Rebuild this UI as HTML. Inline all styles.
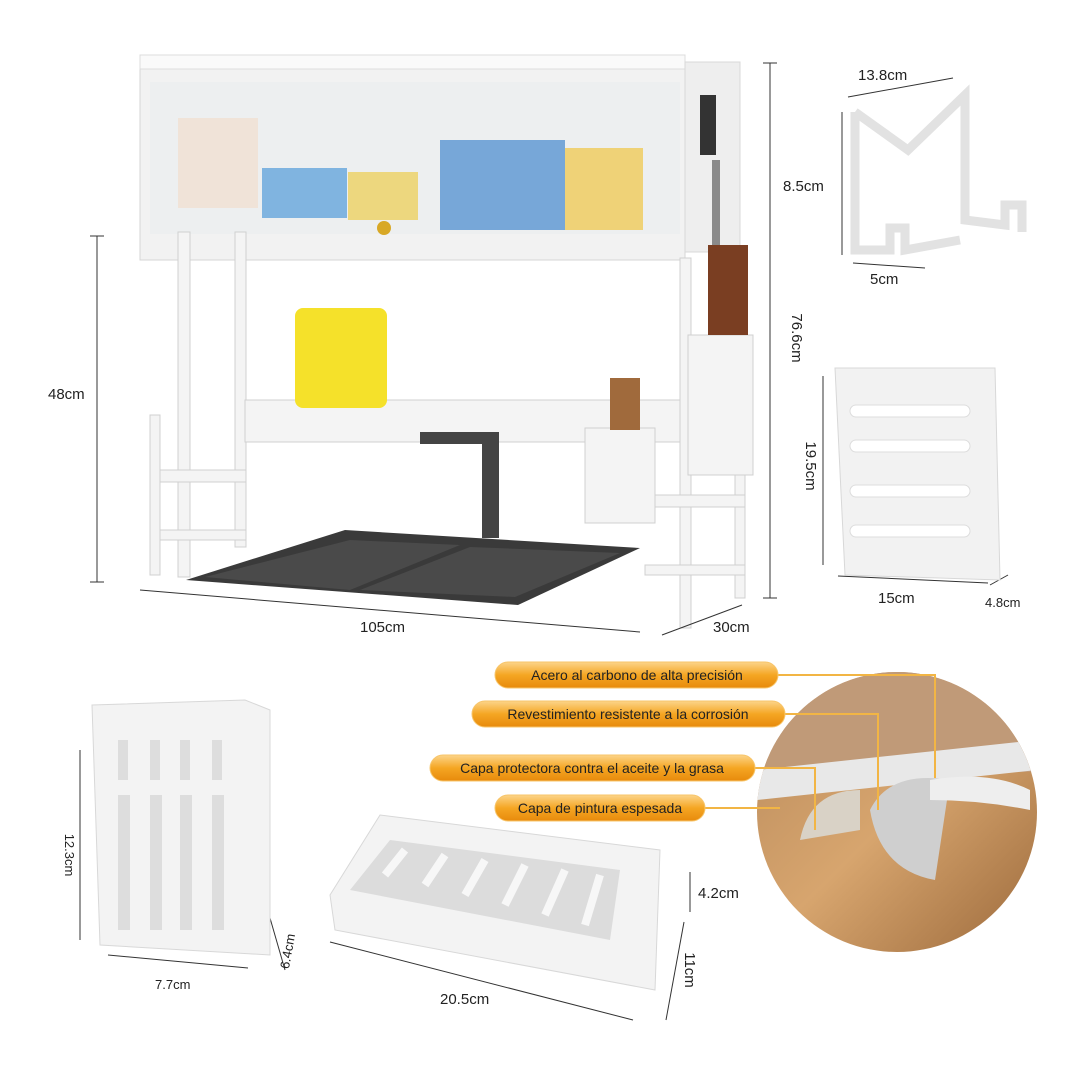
<!DOCTYPE html>
<html><head><meta charset="utf-8"><style>
html,body{margin:0;padding:0;background:#fff;}
svg{display:block;font-family:"Liberation Sans",sans-serif;}
</style></head><body>
<svg width="1079" height="1074" viewBox="0 0 1079 1074" xmlns="http://www.w3.org/2000/svg">
<defs>
<linearGradient id="org" x1="0" y1="0" x2="0" y2="1"><stop offset="0" stop-color="#fcd48a"/><stop offset="0.5" stop-color="#f5a623"/><stop offset="1" stop-color="#e88a0c"/></linearGradient>
<linearGradient id="wood" x1="0" y1="0" x2="1" y2="1"><stop offset="0" stop-color="#b88a5c"/><stop offset="0.5" stop-color="#d7a56e"/><stop offset="1" stop-color="#9c6a3c"/></linearGradient>
<clipPath id="cc"><circle cx="897" cy="812" r="140"/></clipPath>
</defs>
<!-- cabinet -->
<rect x="140" y="55" width="545" height="205" fill="#f2f2f2" stroke="#d6d6d6"/>
<rect x="140" y="55" width="545" height="14" fill="#fafafa" stroke="#ddd"/>
<rect x="150" y="82" width="530" height="152" fill="#e4e6e8"/>
<rect x="178" y="118" width="80" height="90" fill="#e9d4c4"/>
<rect x="262" y="168" width="85" height="50" fill="#3d8ccf"/>
<rect x="348" y="172" width="70" height="48" fill="#e4c23a"/>
<rect x="440" y="140" width="125" height="90" fill="#2f78c4"/>
<rect x="565" y="148" width="78" height="82" fill="#e6bb2e"/>
<rect x="150" y="82" width="530" height="152" fill="#fff" opacity="0.35"/>
<circle cx="384" cy="228" r="7" fill="#d8a826"/>
<rect x="685" y="62" width="55" height="190" fill="#eeeeee" stroke="#d8d8d8"/>
<rect x="700" y="95" width="16" height="60" fill="#333"/>
<rect x="712" y="160" width="8" height="95" fill="#8a8a8a"/>
<!-- legs -->
<g fill="#f4f4f4" stroke="#d0d0d0">
<rect x="178" y="232" width="12" height="345"/><rect x="235" y="232" width="11" height="315"/>
<rect x="680" y="258" width="11" height="370"/><rect x="735" y="258" width="10" height="340"/>
<rect x="150" y="470" width="96" height="12"/><rect x="150" y="530" width="96" height="10"/>
<rect x="150" y="415" width="10" height="160"/>
<rect x="645" y="495" width="100" height="12"/><rect x="645" y="565" width="100" height="10"/>
<rect x="245" y="400" width="435" height="42"/>
<rect x="688" y="335" width="65" height="140"/>
<rect x="585" y="428" width="70" height="95"/>
</g>
<rect x="708" y="245" width="40" height="90" fill="#7a3e22"/>
<rect x="610" y="378" width="30" height="52" fill="#a06a3c"/>
<rect x="295" y="308" width="92" height="100" rx="8" fill="#f5e12a"/>
<!-- sink -->
<polygon points="186,580 345,530 640,548 518,605" fill="#3a3a3a"/>
<polygon points="205,577 350,540 460,545 350,590" fill="#4a4a4a"/>
<polygon points="360,590 470,547 620,553 515,597" fill="#4a4a4a"/>
<rect x="482" y="432" width="17" height="106" fill="#444"/>
<rect x="420" y="432" width="75" height="12" fill="#444"/>
<!-- dims main -->
<g stroke="#333" stroke-width="1" fill="none">
<line x1="97" y1="236" x2="97" y2="582"/><line x1="90" y1="236" x2="104" y2="236"/><line x1="90" y1="582" x2="104" y2="582"/>
<line x1="770" y1="63" x2="770" y2="598"/><line x1="763" y1="63" x2="777" y2="63"/><line x1="763" y1="598" x2="777" y2="598"/>
<line x1="140" y1="590" x2="640" y2="632"/><line x1="662" y1="635" x2="742" y2="605"/>
<line x1="848" y1="97" x2="953" y2="78"/><line x1="842" y1="112" x2="842" y2="255"/><line x1="853" y1="263" x2="925" y2="268"/>
<line x1="823" y1="376" x2="823" y2="565"/><line x1="838" y1="576" x2="988" y2="583"/><line x1="990" y1="585" x2="1008" y2="575"/>
<line x1="80" y1="750" x2="80" y2="940"/><line x1="108" y1="955" x2="248" y2="968"/><line x1="270" y1="918" x2="285" y2="970"/>
<line x1="330" y1="942" x2="633" y2="1020"/><line x1="690" y1="872" x2="690" y2="912"/><line x1="684" y1="922" x2="666" y2="1020"/>
</g>
<!-- hook -->
<path d="M855,112 L855,250 L890,250 L890,228 L905,228 L905,250 L960,240 M855,112 L908,150 L965,95 L965,220 L1005,225 L1005,205 L1022,205 L1022,232" fill="none" stroke="#e2e2e2" stroke-width="9"/>
<!-- panel -->
<polygon points="835,368 995,368 1000,580 845,575" fill="#f2f2f2" stroke="#d8d8d8"/>
<g fill="#fff" stroke="#ddd"><rect x="850" y="405" width="120" height="12" rx="6"/><rect x="850" y="440" width="120" height="12" rx="6"/><rect x="850" y="485" width="120" height="12" rx="6"/><rect x="850" y="525" width="120" height="12" rx="6"/></g>
<!-- utensil holder -->
<polygon points="92,705 245,700 270,710 270,955 100,945" fill="#f3f3f3" stroke="#d8d8d8"/>
<g fill="#ddd"><rect x="118" y="740" width="10" height="40"/><rect x="150" y="740" width="10" height="40"/><rect x="180" y="740" width="10" height="40"/><rect x="212" y="740" width="10" height="40"/>
<rect x="118" y="795" width="12" height="135"/><rect x="150" y="795" width="12" height="135"/><rect x="180" y="795" width="12" height="135"/><rect x="212" y="795" width="12" height="135"/></g>
<!-- tray -->
<polygon points="330,895 380,815 660,850 655,990 335,930" fill="#f3f3f3" stroke="#d8d8d8"/>
<polygon points="350,890 390,840 620,870 610,940" fill="#dcdcdc"/>
<g stroke="#f7f7f7" stroke-width="8"><line x1="385" y1="875" x2="405" y2="850"/><line x1="425" y1="885" x2="445" y2="855"/><line x1="465" y1="895" x2="485" y2="860"/><line x1="505" y1="905" x2="525" y2="865"/><line x1="545" y1="915" x2="565" y2="870"/><line x1="585" y1="925" x2="600" y2="875"/></g>
<!-- circle -->
<g clip-path="url(#cc)"><rect x="757" y="672" width="280" height="280" fill="url(#wood)"/>
<rect x="757" y="672" width="280" height="100" fill="#c09a78"/>
<polygon points="757,770 1037,740 1037,770 757,800" fill="#e8e8e8"/>
<path d="M800,840 Q810,790 860,790 L860,830" fill="#d9d2c6"/>
<path d="M870,810 Q890,770 950,780 L935,880 Q880,870 870,810" fill="#cfcfcf"/>
<path d="M930,780 Q990,770 1030,790 L1030,810 Q980,800 930,800" fill="#eee"/></g>
<!-- orange labels -->
<g stroke="#f2b544" stroke-width="2" fill="none">
<path d="M778,675 L935,675 L935,778"/><path d="M785,714 L878,714 L878,810"/><path d="M755,768 L815,768 L815,830"/><path d="M705,808 L780,808"/></g>
<g fill="url(#org)" stroke="#f7c56a"><rect x="495" y="662" width="283" height="26" rx="13"/><rect x="472" y="701" width="313" height="26" rx="13"/><rect x="430" y="755" width="325" height="26" rx="13"/><rect x="495" y="795" width="210" height="26" rx="13"/></g>
<g font-size="14" fill="#222" text-anchor="middle">
<text x="637" y="680">Acero al carbono de alta precisión</text>
<text x="628" y="719">Revestimiento resistente a la corrosión</text>
<text x="592" y="773">Capa protectora contra el aceite y la grasa</text>
<text x="600" y="813">Capa de pintura espesada</text></g>
<!-- dim labels -->
<g font-size="15" fill="#222">
<text x="48" y="399">48cm</text>
<text x="360" y="632">105cm</text><text x="713" y="632">30cm</text>
<text x="858" y="80">13.8cm</text><text x="783" y="191">8.5cm</text><text x="870" y="284">5cm</text>
<text x="878" y="603">15cm</text><text x="985" y="607" font-size="13">4.8cm</text>
<text x="155" y="989" font-size="13">7.7cm</text><text x="440" y="1004">20.5cm</text><text x="698" y="898">4.2cm</text>
<text transform="translate(792,338) rotate(90)" text-anchor="middle">76.6cm</text>
<text transform="translate(806,466) rotate(90)" text-anchor="middle">19.5cm</text>
<text transform="translate(65,855) rotate(90)" text-anchor="middle" font-size="13">12.3cm</text>
<text transform="translate(292,952) rotate(-80)" text-anchor="middle" font-size="13">6.4cm</text>
<text transform="translate(685,970) rotate(90)" text-anchor="middle">11cm</text>
</g>
</svg>
</body></html>
